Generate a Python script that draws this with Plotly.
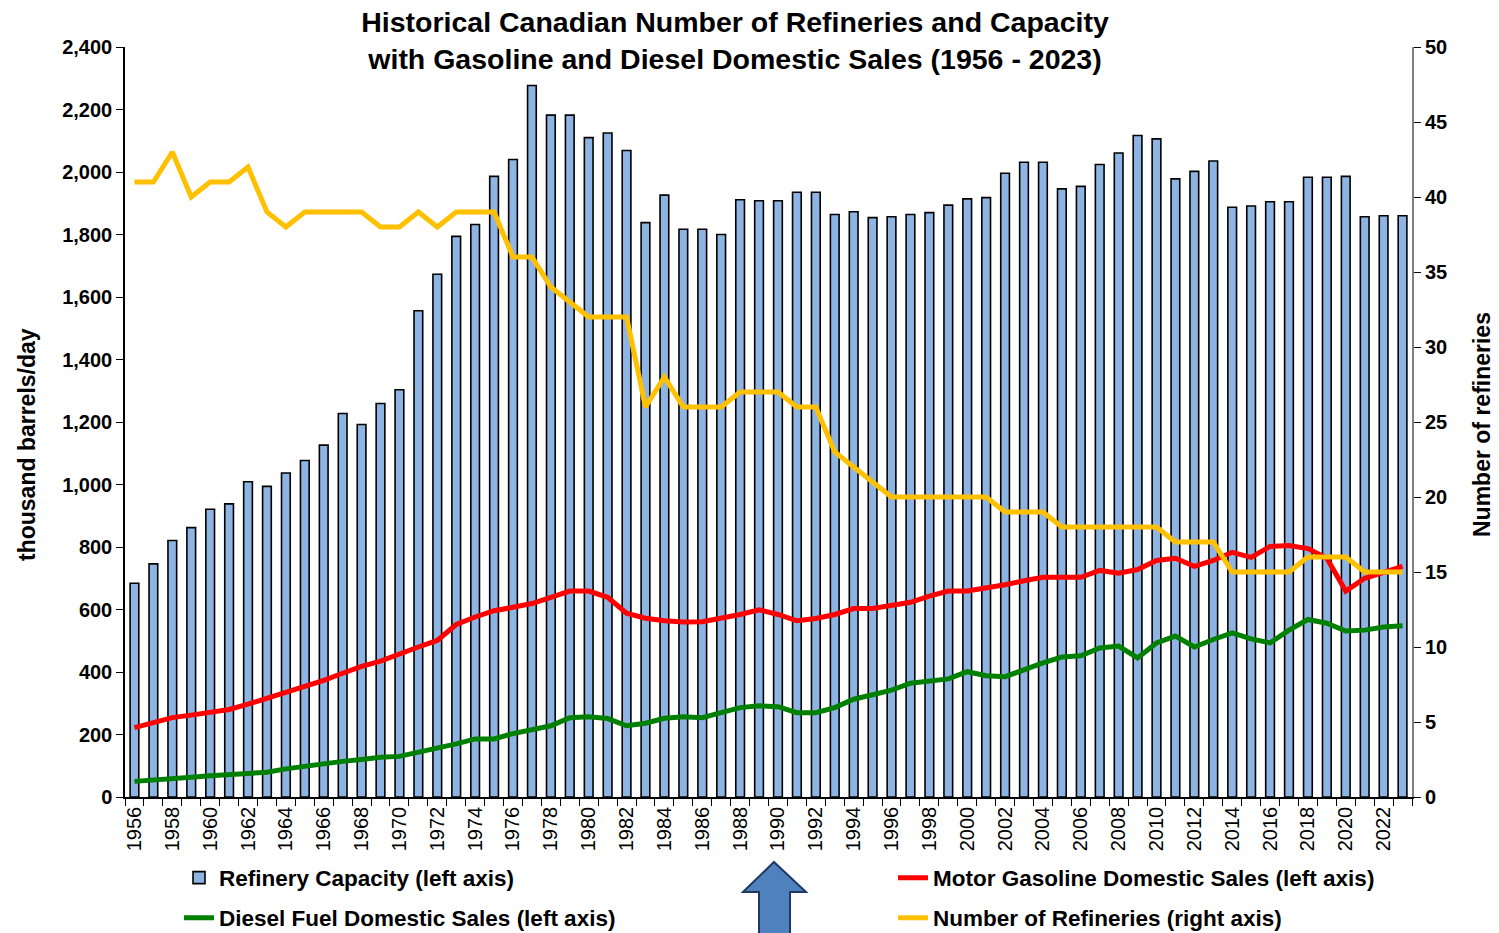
import plotly.graph_objects as go

years = list(range(1956, 2024))

refinery_capacity = [
    684, 746, 821, 862, 921, 938, 1009, 994, 1037, 1077,
    1126, 1227, 1192, 1259, 1303, 1556, 1673, 1794, 1832, 1986,
    2040, 2277, 2182, 2182, 2110, 2125, 2069, 1838, 1926, 1817,
    1817, 1800, 1911, 1908, 1908, 1935, 1935, 1864, 1873, 1854,
    1857, 1864, 1870, 1894, 1914, 1918, 1996, 2031, 2031, 1946,
    1954, 2024, 2061, 2117, 2106, 1978, 2002, 2035, 1887, 1891,
    1905, 1905, 1983, 1983, 1986, 1857, 1860, 1860,
]

gasoline_sales = [
    222, 238, 254, 262, 273, 280, 297, 316, 332, 353,
    373, 396, 418, 435, 459, 480, 501, 552, 576, 596,
    607, 619, 639, 659, 659, 639, 588, 572, 564, 560,
    561, 571, 584, 599, 584, 564, 571, 584, 603, 603,
    611, 623, 643, 659, 659, 668, 679, 692, 703, 703,
    703, 725, 716, 728, 757, 764, 738, 757, 783, 767,
    802, 805, 795, 764, 659, 700, 719, 738,
]

diesel_sales = [
    50, 53, 57, 63, 68, 73, 76, 79, 90, 98,
    109, 114, 120, 127, 130, 143, 154, 170, 186, 186,
    203, 217, 228, 254, 257, 251, 228, 236, 252, 257,
    254, 270, 286, 292, 289, 270, 270, 286, 313, 327,
    342, 364, 369, 378, 401, 388, 385, 408, 429, 448,
    452, 477, 483, 445, 493, 515, 480, 504, 525, 506,
    493, 534, 568, 556, 531, 534, 544, 548,
]

number_of_refineries = [
    41, 41, 43, 40, 41, 41, 42, 39, 38, 39,
    39, 39, 39, 38, 38, 39, 38, 39, 39, 39,
    36, 36, 34, 33, 32, 32, 32, 26, 28, 26,
    26, 26, 27, 27, 27, 26, 26, 23, 22, 21,
    20, 20, 20, 20, 20, 20, 19, 19, 19, 18,
    18, 18, 18, 18, 18, 17, 17, 17, 15, 15,
    15, 15, 16, 16, 16, 15, 15, 15,
]

x_tick_values = years[::2]
x_tick_labels = [str(y) for y in x_tick_values]

left_axis_title = "thousand barrels/day"
right_axis_title = "Number of refineries"

FONT = "Arial, Liberation Sans, sans-serif"

# The page places the figure 8px from the window's top-left corner.
OFF = 8
W, H = 1499 - OFF, 933 - OFF
PLOT_L, PLOT_R, PLOT_T, PLOT_B = 125, 1412, 47, 797  # reference pixels

fig = go.Figure()

fig.add_trace(go.Bar(
    x=years, y=refinery_capacity,
    name="<b>Refinery Capacity (left axis)</b>",
    marker=dict(color="#8DB4E2", line=dict(color="#000000", width=1.6)),
    width=0.46,
    legend="legend",
    showlegend=True,
))
fig.add_trace(go.Scatter(
    x=years, y=diesel_sales, mode="lines",
    name="<b>Diesel Fuel Domestic Sales (left axis)</b>",
    line=dict(color="#008000", width=5),
    legend="legend2",
))
fig.add_trace(go.Scatter(
    x=years, y=gasoline_sales, mode="lines",
    name="<b>Motor Gasoline Domestic Sales (left axis)</b>",
    line=dict(color="#FF0000", width=5),
    legend="legend3",
))
fig.add_trace(go.Scatter(
    x=years, y=number_of_refineries, mode="lines",
    name="<b>Number of Refineries (right axis)</b>",
    line=dict(color="#FFC000", width=5),
    yaxis="y2",
    legend="legend4",
))


def leg(xp, yp):
    # xp: reference x of legend text start; yp: reference y of row centre
    return dict(
        x=(xp - 40 - OFF) / W, y=1 - (yp - OFF) / H,
        xref="container", yref="container",
        xanchor="left", yanchor="middle",
        bgcolor="rgba(0,0,0,0)",
        font=dict(family=FONT, size=22.5, color="#000000"),
        orientation="v",
        visible=True,
    )


# reference pixel positions -> paper coords
def px(xp):
    return (xp - PLOT_L) / float(PLOT_R - PLOT_L)


def py(yp):
    return (PLOT_B - yp) / float(PLOT_B - PLOT_T)


arrow_path = (
    f"M {px(774)},{py(862)} L {px(806)},{py(892)} L {px(790)},{py(892)} "
    f"L {px(790)},{py(945)} L {px(759)},{py(945)} L {px(759)},{py(892)} "
    f"L {px(743)},{py(892)} Z"
)

fig.update_layout(
    width=W, height=H,
    margin=dict(l=PLOT_L - OFF, r=W - (PLOT_R - OFF), t=PLOT_T - OFF,
                b=H - (PLOT_B - OFF), autoexpand=False),
    showlegend=True,
    paper_bgcolor="#FFFFFF",
    plot_bgcolor="#FFFFFF",
    font=dict(family=FONT, color="#000000"),
    title=dict(
        text="<b>Historical Canadian Number of Refineries and Capacity<br>with Gasoline and Diesel Domestic Sales (1956 - 2023)</b>",
        x=(735 - OFF) / W, xanchor="center", xref="container",
        y=1 - 23.5 / H, yanchor="top", yref="container",
        font=dict(family=FONT, size=28.5, color="#000000"),
    ),
    xaxis=dict(
        range=[1955.5, 2023.5],
        tickmode="array", tickvals=x_tick_values, ticktext=x_tick_labels,
        tickangle=-90,
        ticks="",
        tickfont=dict(family=FONT, size=20, color="#000000"),
        showline=True, linecolor="#000000", linewidth=1.5,
        showgrid=False, zeroline=False,
        minor=dict(tick0=1955.5, dtick=1, ticks="outside", ticklen=7,
                   tickcolor="#000000", tickwidth=1, showgrid=False),
    ),
    yaxis=dict(
        range=[0, 2400], dtick=200, tickformat=",",
        ticks="outside", ticklen=7, tickcolor="#000000",
        tickfont=dict(family=FONT, size=20, color="#000000", weight="bold"),
        showline=True, linecolor="#000000", linewidth=1.5,
        showgrid=False, zeroline=False,
    ),
    yaxis2=dict(
        range=[0, 50], dtick=5, overlaying="y", side="right",
        ticks="outside", ticklen=7, tickcolor="#000000",
        tickfont=dict(family=FONT, size=20, color="#000000", weight="bold"),
        showline=True, linecolor="#808080", linewidth=2,
        showgrid=False, zeroline=False,
    ),
    legend=leg(219, 878),
    legend2=leg(219, 918),
    legend3=leg(933, 878),
    legend4=leg(933, 918),
    annotations=[
        dict(text=f"<b>{left_axis_title}</b>", xref="paper", yref="paper",
             x=px(27), y=py(445), xanchor="center", yanchor="middle",
             textangle=-90, showarrow=False,
             font=dict(family=FONT, size=23, color="#000000")),
        dict(text=f"<b>{right_axis_title}</b>", xref="paper", yref="paper",
             x=px(1482), y=py(425), xanchor="center", yanchor="middle",
             textangle=-90, showarrow=False,
             font=dict(family=FONT, size=23, color="#000000")),
    ],
    shapes=[dict(
        type="path", path=arrow_path, xref="paper", yref="paper",
        fillcolor="#4F81BD", line=dict(color="#1F3864", width=2),
    )],
)

fig.write_html("out.html")
